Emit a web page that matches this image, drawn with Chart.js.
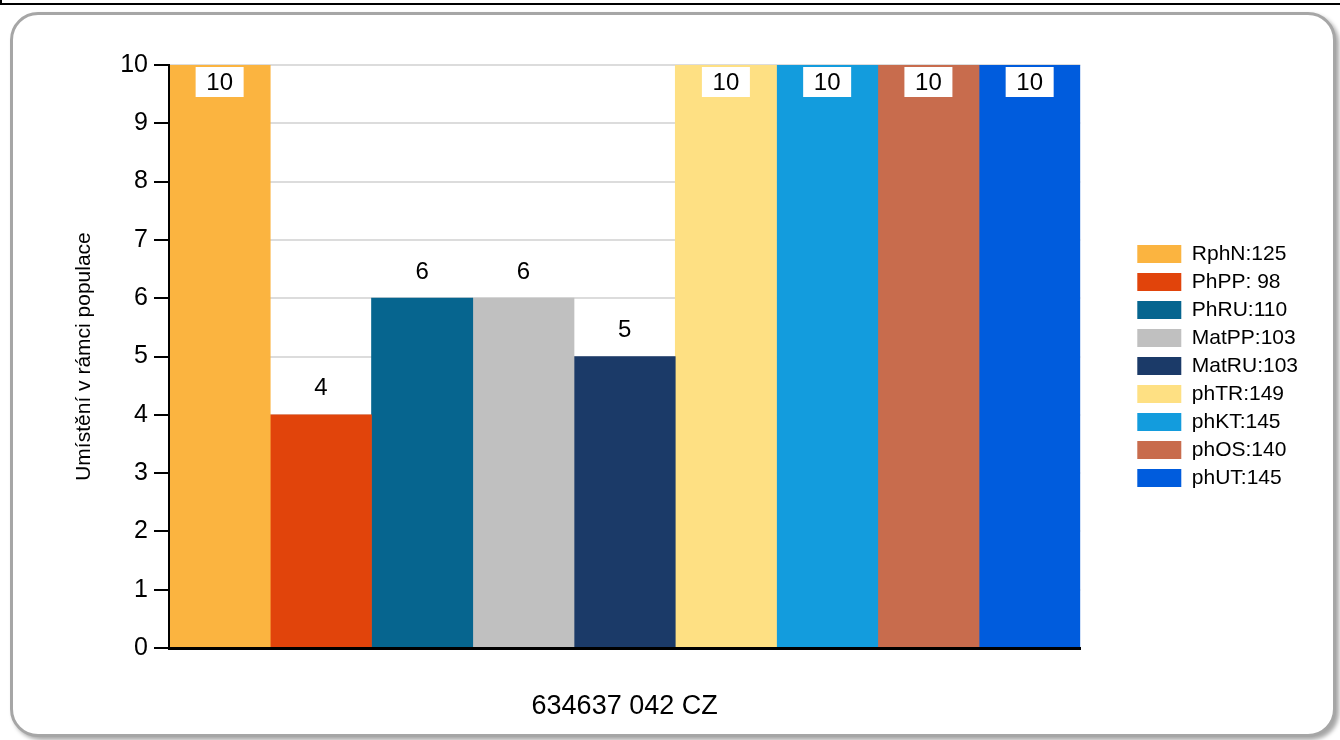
<!DOCTYPE html>
<html>
<head>
<meta charset="utf-8">
<title>Umístění v rámci populace</title>
<script src="https://cdn.jsdelivr.net/npm/chart.js@4"></script>
<style>
  html, body { margin: 0; padding: 0; background: #fff; width: 1340px; height: 740px; overflow: hidden; }
  #topbar { position: absolute; left: 0; top: -15px; width: 1400px; height: 18px; border-left: 2px solid #000; border-bottom: 2px solid #000; }
  #frame { position: absolute; left: 10px; top: 12px; width: 1320px; height: 719px; border: 3px solid #a6a6a6; border-radius: 28px; box-shadow: 3px 3px 4px rgba(0,0,0,0.35); background: #fff; }
  #wrap { position: absolute; left: 0; top: 0; width: 1340px; height: 740px; }
</style>
</head>
<body>
<div id="topbar"></div>
<div id="frame"></div>
<div id="wrap"><canvas id="chartUmisteni"></canvas></div>
<script>
// data z grafu
const kategorie = ["634637 042 CZ"];
const nazvy = ["RphN:125", "PhPP: 98", "PhRU:110", "MatPP:103", "MatRU:103", "phTR:149", "phKT:145", "phOS:140", "phUT:145"];
const hodnoty = [10, 4, 6, 6, 5, 10, 10, 10, 10];
const barvy = ["#FBB440", "#E1440B", "#06658F", "#C0C0C0", "#1B3A68", "#FEE083", "#139CDD", "#C86C4D", "#005CDD"];
const osaY = { min: 0, max: 10, krok: 1 };

const pismo = '"Liberation Sans", Arial, Helvetica, sans-serif';

// popisky hodnot nad sloupci (nahore v bilem ramecku, kdyz neni misto)
const popiskyHodnot = {
  id: "popiskyHodnot",
  afterDatasetsDraw(chart) {
    const { ctx, chartArea } = chart;
    ctx.save();
    ctx.font = "24px " + pismo;
    ctx.textAlign = "center";
    ctx.textBaseline = "middle";
    chart.data.datasets.forEach((ds, i) => {
      chart.getDatasetMeta(i).data.forEach((bar, j) => {
        const txt = String(ds.data[j]);
        if (bar.y - chartArea.top < 40) {
          ctx.fillStyle = "#fff";
          ctx.fillRect(bar.x - 24, bar.y + 2, 48, 30);
          ctx.fillStyle = "#000";
          ctx.fillText(txt, bar.x, bar.y + 18);
        } else {
          ctx.fillStyle = "#000";
          ctx.fillText(txt, bar.x, bar.y - 26);
        }
      });
    });
    ctx.restore();
  }
};

Chart.defaults.font.family = pismo;
Chart.defaults.color = "#000";

new Chart(document.getElementById("chartUmisteni"), {
  type: "bar",
  data: {
    labels: kategorie,
    datasets: nazvy.map((n, i) => ({
      label: n,
      data: [hodnoty[i]],
      backgroundColor: barvy[i],
      borderWidth: 0
    }))
  },
  options: {
    responsive: true,
    maintainAspectRatio: false,
    devicePixelRatio: 1,
    animation: false,
    layout: { padding: { left: 68, top: 0, right: 32, bottom: 8 } },
    datasets: { bar: { categoryPercentage: 1, barPercentage: 1 } },
    plugins: {
      tooltip: { enabled: false },
      legend: {
        position: "right",
        labels: {
          boxWidth: 44,
          boxHeight: 18,
          padding: 7,
          color: "#000",
          font: { size: 21 }
        }
      }
    },
    scales: {
      x: {
        grid: { display: false },
        border: { display: true, color: "#000", width: 3, z: 1 },
        ticks: { display: false },
        title: {
          display: true,
          text: kategorie[0],
          color: "#000",
          font: { size: 27 },
          padding: { top: 0, bottom: 9 }
        },
        afterFit: s => { s.height = 84; }
      },
      y: {
        min: osaY.min,
        max: osaY.max,
        ticks: { stepSize: osaY.krok, padding: 6, color: "#000", font: { size: 25 } },
        grid: { color: "#dcdcdc", lineWidth: 2, tickLength: 15, tickColor: "#000", tickWidth: 2 },
        border: { display: true, color: "#000", width: 2, z: 1 },
        title: {
          display: true,
          text: "Umístění v rámci populace",
          color: "#000",
          font: { size: 21 },
          padding: { top: 4, bottom: 4 }
        },
        afterFit: s => { s.width = 101; }
      },
      // prazdne osy jen kvuli odsazeni
      x2: {
        type: "linear",
        position: "top",
        grid: { display: false },
        border: { display: false },
        ticks: { display: false },
        afterFit: s => { s.height = 65; }
      },
      y2: {
        type: "linear",
        position: "right",
        grid: { display: false },
        border: { display: false },
        ticks: { display: false },
        afterFit: s => { s.width = 50; }
      }
    }
  },
  plugins: [popiskyHodnot]
});
</script>
</body>
</html>
